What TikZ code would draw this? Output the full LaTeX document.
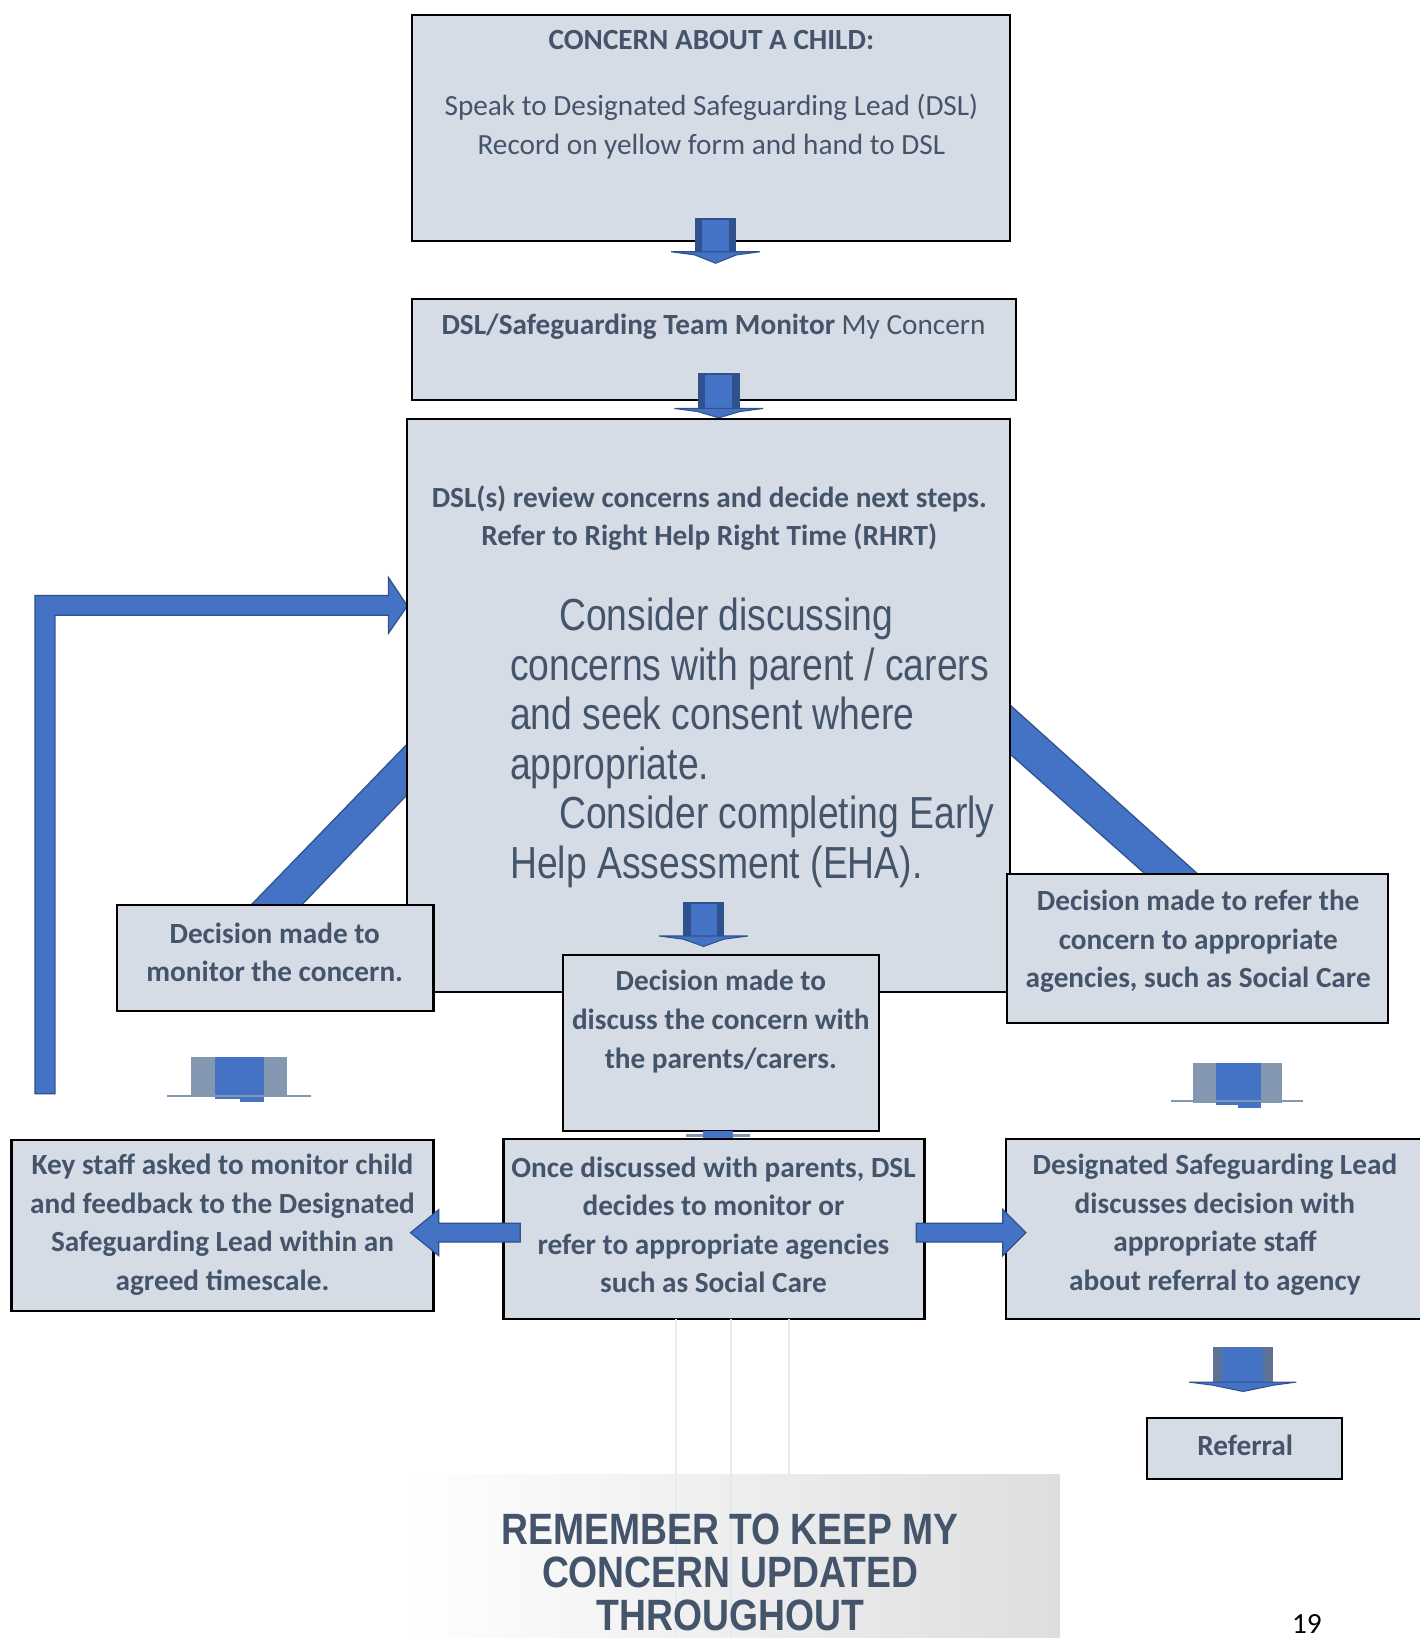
\documentclass[tikz,border=0pt]{standalone}
\usepackage{fontspec}
\setmainfont{Carlito}
\newfontfamily\narrowfont[FakeStretch=0.83]{Liberation Sans}
\newfontfamily\remfont[FakeStretch=0.85]{Liberation Sans}
\usetikzlibrary{fit}
\definecolor{boxfill}{HTML}{D6DCE5}
\definecolor{txt}{HTML}{44546A}
\definecolor{arrblue}{HTML}{4472C4}
\definecolor{arrdark}{HTML}{2F528F}
\definecolor{arrgray}{HTML}{8497B0}
\definecolor{arrslate}{HTML}{5E7197}
\definecolor{faint}{HTML}{E6ECF5}
\definecolor{remgray}{HTML}{DEDDDF}
\newcommand\blkdown[6]{% cx, top, headbase, tip, halfshaft, halfwing
  \fill[arrdark] (#1-#5,#2) rectangle (#1+#5,#3);
  \fill[arrblue] (#1-#5+7,#2+2) rectangle (#1+#5-7,#3);
  \fill[arrblue,draw=arrdark,line width=0.5pt] (#1-#6,#3) -- (#1+#6,#3) -- (#1+#5,#3+3) -- (#1,#4) -- (#1-#5,#3+3) -- cycle;}
\begin{document}
\begin{tikzpicture}[x=0.5pt,y=-0.5pt,
  box/.style={draw=black,line width=1pt,fill=boxfill,inner sep=0pt},
  lbl/.style={text=txt,font=\fontsize{14}{18.5}\selectfont,align=center,inner sep=0pt},
  blbl/.style={text=txt,font=\bfseries\fontsize{14}{18.5}\selectfont,align=center,inner sep=0pt},
  bigtxt/.style={text=txt,font=\narrowfont\fontsize{21.5}{23.7}\selectfont,align=left,inner sep=0pt},
  remtxt/.style={text=txt,font=\remfont\bfseries\fontsize{21}{20.5}\selectfont,align=center,inner sep=0pt},
  band/.style={fill=arrblue,draw=arrdark,line width=0.6pt}]
\fill[white] (0,0) rectangle (1359,1568);
\useasboundingbox (0,0) rectangle (1359,1568);

% diagonal bands and loop-back arrow
\path[band] (400,701.7) -- (231,876) -- (279.5,876) -- (400,750) -- cycle;
\path[band] (957,666) -- (1158,847) -- (1108,847) -- (957,713) -- cycle;
\path[band] (33.5,1047) -- (33.5,570) -- (372,570) -- (372,553) -- (390,580) -- (372,606) -- (372,589) -- (52.6,589) -- (52.6,1047) -- cycle;

% box 1
\node[box,fit={(394,14) (967,231)}] (b1) {};
\node[blbl] (t1a) at (681,38) {CONCERN ABOUT A CHILD:};
\node[lbl] (t1b) at (681,121) {Speak to Designated Safeguarding Lead (DSL)\\Record on yellow form and hand to DSL};
\blkdown{685}{209}{241}{252}{20}{42.5}

% box 2
\node[box,fit={(394,286) (973,383)}] (b2) {};
\node[lbl] (t2) at (683,313) {\textbf{DSL/Safeguarding Team Monitor} My Concern};
\blkdown{688}{357}{391}{400}{20}{42.5}

% box 3
\node[box,fit={(390,401) (967,950)}] (b3) {};
\node[blbl] (t3a) at (679,496) {DSL(s) review concerns and decide next steps.\\Refer to Right Help Right Time (RHRT)};
\node[bigtxt,anchor=west] (t3b) at (488,711) {\hspace*{23.5pt}Consider discussing\\concerns with parent / carers\\and seek consent where\\appropriate.\\\hspace*{23.5pt}Consider completing Early\\Help Assessment (EHA).};
\blkdown{673.5}{863}{896}{906}{19.5}{42.5}

% decision boxes
\node[box,fit={(112,866) (415,968)}] (bmon) {};
\node[blbl] (tmon) at (263,911.5) {Decision made to\\monitor the concern.};
\node[box,fit={(539,914) (841,1083)}] (bdisc) {};
\node[blbl] (tdisc) at (690,978) {Decision made to\\discuss the concern with\\the parents/carers.};
\node[box,fit={(964,837) (1329,979)}] (bref) {};
\node[blbl] (tref) at (1147,901) {Decision made to refer the\\concern to appropriate\\agencies, such as Social Care};

% arrows under decision boxes
\fill[arrgray] (183,1012) rectangle (275,1050);
\fill[arrblue] (206,1012) rectangle (253,1052);
\draw[arrgray,line width=1pt] (160,1049) -- (298,1049);
\fill[arrblue] (230,1050) rectangle (253,1055);
\fill[arrgray] (1142,1018) rectangle (1227,1056);
\fill[arrblue] (1164,1018) rectangle (1207,1058);
\draw[arrgray,line width=1pt] (1121,1054) -- (1247,1054);
\fill[arrblue] (1185,1056) rectangle (1207,1061);
\draw[arrgray,line width=1pt] (657,1087) -- (718,1087);
\fill[arrblue] (673,1083) rectangle (702,1090);
\fill[arrblue] (673,1090) -- (702,1090) -- (688,1094) -- cycle;

% bottom row
\node[box,fit={(11,1091) (415,1255)}] (bkey) {};
\node[blbl] (tkey) at (213,1172.5) {Key staff asked to monitor child\\and feedback to the Designated\\Safeguarding Lead within an\\agreed timescale.};
\node[box,fit={(482,1090) (885,1263)}] (bonce) {};
\node[blbl] (tonce) at (683,1172.5) {Once discussed with parents, DSL\\decides to monitor or\\refer to appropriate agencies\\such as Social Care};
\node[box,fit={(963,1090) (1364,1263)}] (bdsl) {};
\node[blbl] (tdsl) at (1163,1172.5) {Designated Safeguarding Lead\\discusses decision with\\appropriate staff\\about referral to agency};
\path[band] (498,1171) -- (420,1171) -- (420,1158) -- (393,1180) -- (420,1202) -- (420,1189) -- (498,1189) -- cycle;
\path[band] (877,1171) -- (960,1171) -- (960,1158) -- (982,1180) -- (960,1202) -- (960,1189) -- (877,1189) -- cycle;

% referral
\fill[arrslate] (1161,1289) rectangle (1219,1323);
\fill[arrblue] (1170,1290) rectangle (1209,1323);
\fill[arrblue,draw=arrdark,line width=0.5pt] (1138,1323) -- (1241,1323) -- (1219,1326) -- (1190,1332) -- (1161,1326) -- cycle;
\node[box,fit={(1098,1357) (1285,1416)}] (bfin) {};
\node[blbl] (tfin) at (1192,1384) {Referral};

% reminder panel
\shade[left color=white,right color=remgray] (384,1411) rectangle (1014,1575);
\draw[faint,line width=0.8pt] (647,1263) -- (647,1568);
\draw[faint,line width=0.8pt] (755,1263) -- (755,1568);
\draw[faint!70!arrblue!40,line width=0.8pt] (700,1263) -- (700,1568);
\node[remtxt] (trem) at (699,1505) {REMEMBER TO KEEP MY\\CONCERN UPDATED\\THROUGHOUT};
\node[lbl,text=black] (tpage) at (1251,1555) {19};
\end{tikzpicture}
\end{document}
